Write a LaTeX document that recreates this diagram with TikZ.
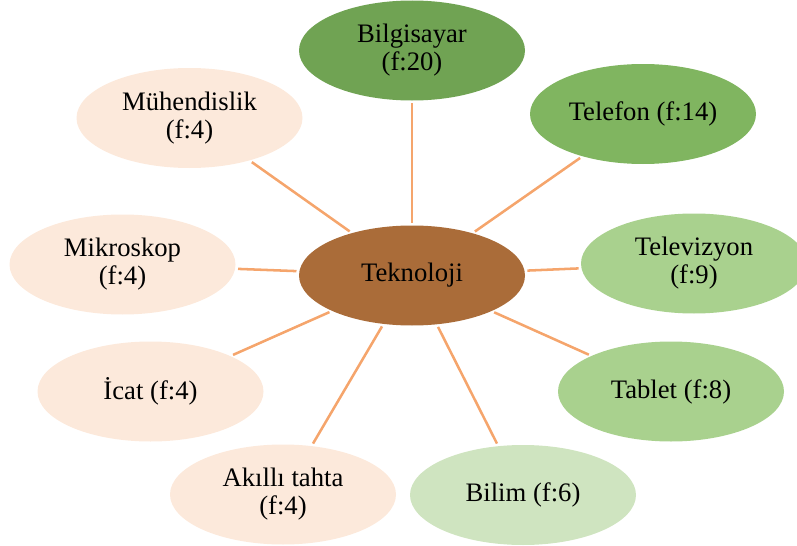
\documentclass[tikz,border=0pt]{standalone}
\usepackage{fontspec}
\setmainfont{Liberation Serif}
\usetikzlibrary{shapes.geometric}
\definecolor{cTek}{HTML}{AA6C39}
\definecolor{cBil}{HTML}{70A353}
\definecolor{cTel}{HTML}{80B560}
\definecolor{cTv}{HTML}{A9D18E}
\definecolor{cBim}{HTML}{CFE4C0}
\definecolor{cPch}{HTML}{FCE9DB}
\definecolor{cLine}{HTML}{F5A56C}
\begin{document}
\begin{tikzpicture}[x=0.75pt,y=-0.75pt,
  bub/.style={ellipse, minimum width=169.5pt, minimum height=75pt, inner sep=0pt,
    align=center, font=\fontsize{20}{21}\selectfont, text=black},
  link/.style={draw=cLine, line width=1.9pt, shorten >=2pt, shorten <=2pt}]
\clip (0,0) rectangle (797,546);
\node[bub, fill=cTek] (tek) at (412,275.5) {Teknoloji};
\node[bub, fill=cBil] (bil) at (412,50.5) {Bilgisayar\\(f:20)};
\node[bub, fill=cTel] (tel) at (643,114) {Telefon (f:14)};
\node[bub, fill=cTv] (tv) at (694,263.5) {Televizyon\\(f:9)};
\node[bub, fill=cTv] (tab) at (671,391.5) {Tablet (f:8)};
\node[bub, fill=cBim] (bim) at (523,495) {Bilim (f:6)};
\node[bub, fill=cPch] (akt) at (283,494.5) {Akıllı tahta\\(f:4)};
\node[bub, fill=cPch] (icat) at (150.5,391.5) {İcat (f:4)};
\node[bub, fill=cPch] (mik) at (122.5,264.5) {Mikroskop\\(f:4)};
\node[bub, fill=cPch] (muh) at (189.5,118) {Mühendislik\\(f:4)};
\draw[link] (bil) -- (tek);
\draw[link] (tel) -- (tek);
\draw[link] (tv) -- (tek);
\draw[link] (tab) -- (tek);
\draw[link] (bim) -- (tek);
\draw[link] (akt) -- (tek);
\draw[link] (icat) -- (tek);
\draw[link] (mik) -- (tek);
\draw[link] (muh) -- (tek);
\end{tikzpicture}
\end{document}
